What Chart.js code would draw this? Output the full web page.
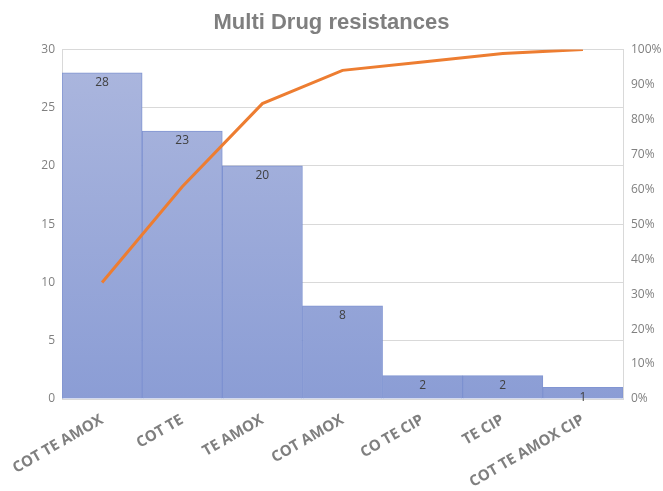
<!DOCTYPE html>
<html>
<head>
<meta charset="utf-8">
<script src="https://cdn.jsdelivr.net/npm/chart.js@4.4.0/dist/chart.umd.min.js"></script>
<style>
  html, body { margin: 0; padding: 0; background: #fff; }
  #wrap { width: 663px; height: 491px; }
</style>
</head>
<body>
<div id="wrap"><canvas id="paretoChart" width="663" height="491"></canvas></div>
<script>
// chart data
const categories = ['COT TE AMOX', 'COT TE', 'TE AMOX', 'COT AMOX', 'CO TE CIP', 'TE CIP', 'COT TE AMOX CIP'];
const counts = [28, 23, 20, 8, 2, 2, 1];
const cumulativePct = [33.3, 60.7, 84.5, 94.0, 96.4, 98.8, 100];
const leftTicks = [0, 5, 10, 15, 20, 25, 30];
const rightTicks = [0, 10, 20, 30, 40, 50, 60, 70, 80, 90, 100];

// bar value labels, drawn just inside the top of each bar
const barLabels = {
  id: 'barLabels',
  afterDatasetsDraw(chart) {
    const ctx = chart.ctx;
    const meta = chart.getDatasetMeta(1);
    ctx.save();
    ctx.font = '12px "Open Sans", sans-serif';
    ctx.fillStyle = '#404040';
    ctx.textAlign = 'center';
    ctx.textBaseline = 'middle';
    meta.data.forEach((bar, i) => {
      ctx.fillText(counts[i], bar.x, bar.y + 10);
    });
    ctx.restore();
  }
};

function barGradient(context) {
  const area = context.chart.chartArea;
  if (!area) return 'rgb(150,166,216)';
  const g = context.chart.ctx.createLinearGradient(0, area.top, 0, area.bottom);
  g.addColorStop(0, 'rgb(172,183,222)');
  g.addColorStop(1, 'rgb(139,157,213)');
  return g;
}

const ctx = document.getElementById('paretoChart').getContext('2d');

const config = {
  data: {
    labels: categories,
    datasets: [
      {
        type: 'line',
        data: cumulativePct,
        yAxisID: 'y2',
        borderColor: '#ED7D31',
        borderWidth: 3,
        pointRadius: 0,
        tension: 0,
        order: 0
      },
      {
        type: 'bar',
        data: counts,
        yAxisID: 'y',
        backgroundColor: barGradient,
        borderColor: 'rgba(115,138,205,0.9)',
        borderWidth: 1,
        categoryPercentage: 1.0,
        barPercentage: 1.0,
        order: 1
      }
    ]
  },
  options: {
    responsive: false,
    animation: false,
    layout: { padding: { left: 0, right: 0, top: 0, bottom: 0 } },
    plugins: {
      legend: { display: false },
      tooltip: { enabled: false },
      title: {
        display: true,
        text: 'Multi Drug resistances',
        color: '#7F7F7F',
        font: { family: '"Liberation Sans", Arial, sans-serif', size: 22, weight: 'bold' },
        padding: { top: 10, bottom: 13 }
      }
    },
    scales: {
      x: {
        grid: { display: false },
        border: { display: true, color: '#D9D9D9' },
        ticks: {
          color: '#7F7F7F',
          font: { family: '"Open Sans", sans-serif', size: 15, weight: 'bold' },
          minRotation: 30,
          maxRotation: 30,
          padding: 4
        },
        afterFit(scale) { scale.height = 92; }
      },
      y: {
        position: 'left',
        min: 0,
        max: 30,
        afterBuildTicks(scale) { scale.ticks = leftTicks.map(v => ({ value: v })); },
        grid: { color: '#D9D9D9', drawTicks: false },
        border: { display: true, color: '#D9D9D9' },
        ticks: {
          color: '#808080',
          font: { family: '"Open Sans", sans-serif', size: 12 },
          padding: 7
        },
        afterFit(scale) { scale.width = 62; }
      },
      y2: {
        position: 'right',
        min: 0,
        max: 100,
        afterBuildTicks(scale) { scale.ticks = rightTicks.map(v => ({ value: v })); },
        grid: { display: false, drawTicks: false },
        border: { display: true, color: '#D9D9D9' },
        ticks: {
          color: '#808080',
          font: { family: '"Open Sans", sans-serif', size: 12 },
          padding: 8,
          callback: v => v + '%'
        },
        afterFit(scale) { scale.width = 40; }
      }
    }
  },
  plugins: [barLabels]
};

const paretoChart = new Chart(ctx, config);
</script>
</body>
</html>
